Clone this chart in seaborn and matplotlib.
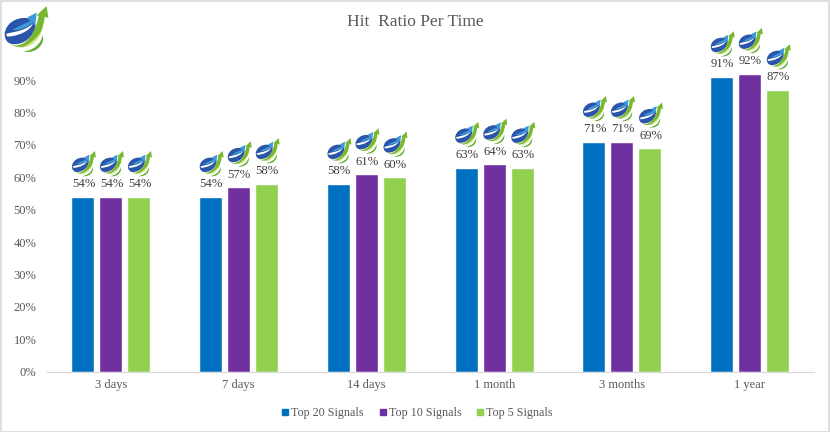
import matplotlib
matplotlib.use("Agg")
import matplotlib.pyplot as plt
import pandas as pd
import seaborn as sns
from matplotlib.lines import Line2D
from matplotlib.patches import PathPatch, Rectangle
from matplotlib.path import Path
from matplotlib.transforms import Affine2D, IdentityTransform

periods = ["3 days", "7 days", "14 days", "1 month", "3 months", "1 year"]
top20 = [54, 54, 58, 63, 71, 91]
top10 = [54, 57, 61, 64, 71, 92]
top5 = [54, 58, 60, 63, 69, 87]
series_names = ["Top 20 Signals", "Top 10 Signals", "Top 5 Signals"]
palette = ["#0070C0", "#7030A0", "#92D050"]
yticks = [0, 10, 20, 30, 40, 50, 60, 70, 80, 90]

sns.set_theme(style="white")
plt.rcParams["font.family"] = ["Liberation Serif", "DejaVu Serif"]
GREY = "#595959"

W, H, DPI = 830, 432, 100
fig = plt.figure(figsize=(W / DPI, H / DPI), dpi=DPI, facecolor="white")
ax = fig.add_axes([47.0 / W, (H - 371.7) / H, (813.6 - 47.0) / W, 324 / H])

df = pd.DataFrame({
    "period": periods * 3,
    "series": [n for n in series_names for _ in periods],
    "value": top20 + top10 + top5,
})
sns.barplot(data=df, x="period", y="value", hue="series", order=periods,
            hue_order=series_names, palette=palette, width=0.658, gap=0.18,
            saturation=1, legend=False, ax=ax)

ax.set_xlim(-0.5, 5.5)
ax.set_ylim(0, 100)
ax.set_xlabel("")
ax.set_ylabel("")
ax.set_yticks(yticks, [f"{v}%" for v in yticks])
ax.tick_params(axis="y", length=0, pad=7.5, labelsize=9, labelcolor=GREY)
ax.tick_params(axis="x", which="major", length=0, pad=5.5, labelsize=9, labelcolor=GREY)
ax.set_xticks([i - 0.5 for i in range(len(periods) + 1)], minor=True)
ax.tick_params(axis="x", which="minor", length=3.6, width=0.8, color="#D9D9D9")
ax.grid(False)
for side in ("top", "right", "left"):
    ax.spines[side].set_visible(False)
ax.spines["bottom"].set_color("#D9D9D9")
ax.spines["bottom"].set_linewidth(0.8)

fig.text(415.5 / W, 1 - 22 / H, "Hit  Ratio Per Time", ha="center", va="center",
         fontsize=12.5, color=GREY)

# Logo artwork on a 165 x 174 design box (y down): a start point, then segments
# that are either a line (2 numbers) or a cubic curve (6 numbers).
LOGO = [
    ("#2A55A8", (14, 100), [(18, 72, 45, 52, 78, 54), (106, 58, 110, 75, 104, 88),
                            (92, 122, 60, 136, 35, 132), (18, 128, 14, 114, 14, 100)]),
    ("#FFFFFF", (18, 102), [(40, 94, 72, 96, 99, 70), (92, 90, 60, 108, 22, 110)]),
    ("#3D9AD8", (38, 90), [(55, 78, 72, 72, 90, 64), (82, 52), (110, 38), (106, 76), (97, 68),
                           (84, 82, 60, 92, 38, 90)]),
    ("#78B82E", (30, 134), [(60, 144, 100, 127, 116, 48), (110, 46), (140, 18), (145, 54), (134, 50),
                            (127, 118, 90, 160, 30, 134)]),
    ("#D5E98C", (62, 142), [(85, 137, 108, 118, 125, 92), (118, 118, 95, 144, 62, 142)]),
    ("#62AC2E", (70, 155), [(100, 150, 122, 135, 128, 105), (135, 128, 115, 162, 70, 155)]),
]


def logo_paths():
    paths = []
    for colour, start, segments in LOGO:
        verts, codes = [start], [Path.MOVETO]
        for seg in segments:
            pts = [seg[i:i + 2] for i in range(0, len(seg), 2)]
            verts.extend(pts)
            codes.extend([Path.LINETO] if len(pts) == 1 else [Path.CURVE4] * 3)
        verts.append(start)
        codes.append(Path.CLOSEPOLY)
        paths.append((colour, Path(verts, codes)))
    return paths


PATHS = logo_paths()


def draw_logo(left_px, top_px, scale):
    """Place the logo with its design-box origin at a pixel position (y down)."""
    tf = Affine2D().scale(scale, -scale).translate(left_px, H - top_px)
    for colour, path in PATHS:
        fig.add_artist(PathPatch(path, facecolor=colour, edgecolor="none", transform=tf))


draw_logo(0, 0, 1 / 3)

for container in ax.containers:
    for bar in container:
        cx = bar.get_x() + bar.get_width() / 2
        val = bar.get_height()
        ax.annotate(f"{val:.0f}%", (cx, val), xytext=(0.5, 9), textcoords="offset points",
                    ha="center", va="center", fontsize=9.2, color="#404040")
        px, py = ax.transData.transform((cx, val))
        draw_logo(px - 13.5, (H - py) - 49, 0.183)

handles = [Line2D([], [], linestyle="none", marker="s", markersize=4.4, color=c) for c in palette]
fig.legend(handles, series_names, loc="center", bbox_to_anchor=(417.5 / W, 1 - 413 / H), ncols=3,
           frameon=False, fontsize=8.7, labelcolor=GREY, handlelength=0.5, handletextpad=0.25,
           columnspacing=1.3)

fig.add_artist(Rectangle((0.5, 0.5), W - 2, H - 1, transform=IdentityTransform(),
                         fill=False, edgecolor="#D9D9D9", linewidth=1.2))

fig.savefig("out.png", dpi=DPI)
